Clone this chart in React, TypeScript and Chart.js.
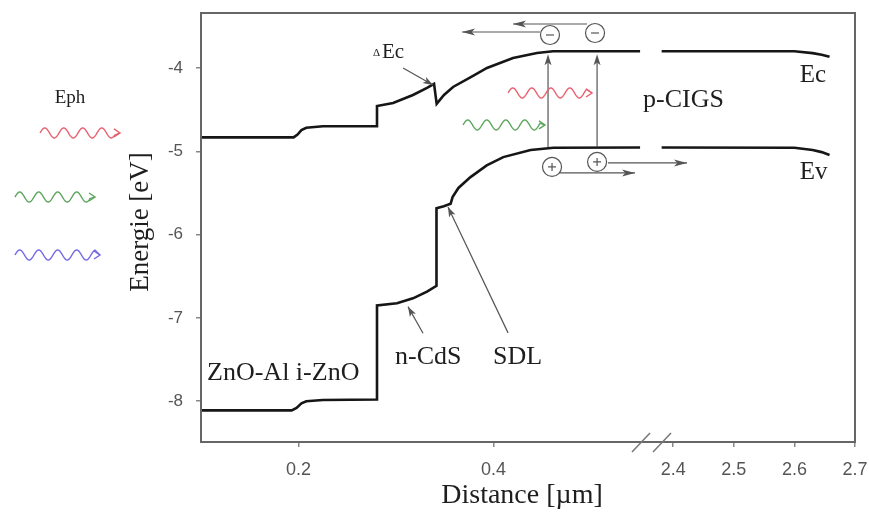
import React, { useEffect, useRef } from "react";
import { Chart, registerables } from "chart.js";

Chart.register(...registerables);

// ---- data (Distance in µm, Energy in eV) ----
const EC_LEFT_X = [0.1, 0.195, 0.199, 0.203, 0.208, 0.225, 0.2805, 0.2805, 0.297, 0.3174, 0.3318, 0.339, 0.3417, 0.3492, 0.3585, 0.379, 0.3933, 0.42, 0.4446, 0.461, 0.5503];
const EC_LEFT_Y = [-4.833, -4.833, -4.8, -4.745, -4.718, -4.7, -4.7, -4.456, -4.42, -4.324, -4.24, -4.19, -4.43, -4.324, -4.228, -4.096, -4.0, -3.88, -3.82, -3.8, -3.8];
const EV_LEFT_X = [0.1, 0.193, 0.198, 0.203, 0.208, 0.225, 0.2805, 0.2805, 0.301, 0.3174, 0.3318, 0.3415, 0.3415, 0.349, 0.356, 0.358, 0.364, 0.3764, 0.393, 0.41, 0.438, 0.4615, 0.5503];
const EV_LEFT_Y = [-8.11, -8.11, -8.08, -8.025, -8.0, -7.985, -7.98, -6.85, -6.825, -6.765, -6.685, -6.615, -5.685, -5.66, -5.63, -5.55, -5.44, -5.31, -5.17, -5.07, -4.985, -4.957, -4.955];
const EC_RIGHT_X = [2.381, 2.6, 2.63, 2.645, 2.658];
const EC_RIGHT_Y = [-3.8, -3.8, -3.822, -3.84, -3.866];
const EV_RIGHT_X = [2.381, 2.6, 2.63, 2.645, 2.658];
const EV_RIGHT_Y = [-4.955, -4.957, -4.985, -5.01, -5.045];

const X1_TICKS = [0.2, 0.4];
const X2_TICKS = [2.4, 2.5, 2.6, 2.7];
const Y_TICKS = [-8, -7, -6, -5, -4];

const X1_RANGE = [0.1, 0.5615];
const X2_RANGE = [2.3634, 2.7];
const Y_RANGE = [-8.49, -3.34];

// ---- annotations (positioned in data units) ----
const TEXT_LABELS = [
  { text: "ZnO-Al i-ZnO", x: 0.1062, y: -7.661, size: 26 },
  { text: "n-CdS", x: 0.299, y: -7.466, size: 26 },
  { text: "SDL", x: 0.3995, y: -7.466, size: 26 },
  { text: "p-CIGS", x: 0.5533, y: -4.384, size: 26 },
  { text: "Ec", x: 2.609, y: -4.084, size: 25 },
  { text: "Ev", x: 2.609, y: -5.248, size: 25 },
  { text: "Eph", x: -0.0344, y: -4.36, size: 19, center: true },
];
const POINTER_ARROWS = [
  { x0: 0.3072, y0: -4.0, x1: 0.3379, y1: -4.204 },
  { x0: 0.3277, y0: -7.185, x1: 0.3123, y1: -6.865 },
  { x0: 0.4149, y0: -7.18, x1: 0.3533, y1: -5.669 },
];
const TRANSITION_X = [0.4559, 0.5062];
const TRANSITION_Y = [-4.948, -3.835];
const ELECTRONS = [
  { x: 0.4579, y: -3.604 },
  { x: 0.5041, y: -3.58 },
];
const HOLES = [
  { x: 0.46, y: -5.188 },
  { x: 0.5062, y: -5.128 },
];
const DRIFT_ARROWS = [
  { x0: 0.4477, x1: 0.3677, y: -3.568 },
  { x0: 0.4959, x1: 0.42, y: -3.472 },
  { x0: 0.4651, x1: 0.5451, y: -5.26 },
  { x0: 0.5174, x1: 2.4228, y: -5.14 },
];
const PHOTONS = [
  { x0: -0.0651, x1: 0.0169, y: -4.78, color: "#e8616f" },
  { x0: -0.0908, x1: -0.0087, y: -5.549, color: "#5ea65e" },
  { x0: -0.0908, x1: -0.0036, y: -6.245, color: "#7468e6" },
  { x0: 0.4149, x1: 0.501, y: -4.3, color: "#e8616f" },
  { x0: 0.3687, x1: 0.4528, y: -4.684, color: "#5ea65e" },
];

const SERIF = '"Liberation Serif", "Times New Roman", serif';
const SANS = '"Liberation Sans", Arial, sans-serif';

const toPts = (xs: number[], ys: number[]) => xs.map((x, i) => ({ x, y: ys[i] }));

function head(ctx: CanvasRenderingContext2D, x0: number, y0: number, x1: number, y1: number, len: number, half: number, color: string) {
  const a = Math.atan2(y1 - y0, x1 - x0);
  const c = Math.cos(a), s = Math.sin(a);
  ctx.save();
  ctx.fillStyle = color;
  ctx.beginPath();
  ctx.moveTo(x1, y1);
  ctx.lineTo(x1 - len * c - half * s, y1 - len * s + half * c);
  ctx.lineTo(x1 - len * c * 0.75, y1 - len * s * 0.75);
  ctx.lineTo(x1 - len * c + half * s, y1 - len * s - half * c);
  ctx.closePath();
  ctx.fill();
  ctx.restore();
}

const decorPlugin = {
  id: "decor",
  afterDraw(chart: any) {
    const ctx: CanvasRenderingContext2D = chart.ctx;
    const { x1, x2, y } = chart.scales;
    const area = chart.chartArea;
    const X = (v: number) => (v > 1 ? x2 : x1).getPixelForValue(v);
    const Y = (v: number) => y.getPixelForValue(v);
    ctx.save();

    // frame
    ctx.strokeStyle = "#666";
    ctx.lineWidth = 2;
    ctx.strokeRect(area.left, area.top, area.right - area.left, area.bottom - area.top);

    // axis break marks
    const bx = x1.right;
    ctx.strokeStyle = "#777";
    ctx.lineWidth = 1.5;
    [-10, 11].forEach((d) => {
      ctx.beginPath();
      ctx.moveTo(bx + d - 9, area.bottom + 10);
      ctx.lineTo(bx + d + 9, area.bottom - 9);
      ctx.stroke();
    });

    // labels
    ctx.fillStyle = "#1e1e1e";
    ctx.textBaseline = "middle";
    TEXT_LABELS.forEach((l) => {
      ctx.font = `${l.size}px ${SERIF}`;
      ctx.textAlign = l.center ? "center" : "left";
      ctx.fillText(l.text, X(l.x), Y(l.y));
    });
    // ΔEc
    {
      const lx = X(0.2764), ly = Y(-3.808);
      ctx.textAlign = "left";
      ctx.font = `11px ${SERIF}`;
      ctx.fillText("Δ", lx, ly + 1);
      ctx.font = `21px ${SERIF}`;
      ctx.fillText("Ec", lx + 9, ly);
    }

    // axis titles
    ctx.fillStyle = "#1e1e1e";
    ctx.font = `28px ${SERIF}`;
    ctx.textAlign = "center";
    ctx.fillText("Distance [µm]", X(0.4292), area.bottom + 54);
    ctx.font = `27px ${SERIF}`;
    ctx.save();
    ctx.translate(area.left - 60, Y(-5.849));
    ctx.rotate(-Math.PI / 2);
    ctx.fillText("Energie [eV]", 0, 0);
    ctx.restore();

    // pointer arrows
    const grey = "#555";
    ctx.strokeStyle = grey;
    ctx.lineWidth = 1.2;
    POINTER_ARROWS.forEach((a) => {
      const px0 = X(a.x0), py0 = Y(a.y0), px1 = X(a.x1), py1 = Y(a.y1);
      ctx.beginPath();
      ctx.moveTo(px0, py0);
      ctx.lineTo(px1, py1);
      ctx.stroke();
      head(ctx, px0, py0, px1, py1, 10, 3.5, grey);
    });

    // transitions
    TRANSITION_X.forEach((tx) => {
      const px = X(tx), pb = Y(TRANSITION_Y[0]), pt = Y(TRANSITION_Y[1]);
      ctx.beginPath();
      ctx.moveTo(px, pb);
      ctx.lineTo(px, pt + 6);
      ctx.stroke();
      head(ctx, px, pb, px, pt, 11, 3.5, grey);
    });

    // drift arrows
    DRIFT_ARROWS.forEach((a) => {
      const px0 = X(a.x0), px1 = X(a.x1), py = Y(a.y);
      ctx.beginPath();
      ctx.moveTo(px0, py);
      ctx.lineTo(px1, py);
      ctx.stroke();
      head(ctx, px0, py, px1, py, 13, 3.5, grey);
    });

    // carriers
    const circle = (c: { x: number; y: number }, plus: boolean) => {
      const cx = X(c.x), cy = Y(c.y);
      ctx.fillStyle = "#fff";
      ctx.beginPath();
      ctx.arc(cx, cy, 9.5, 0, Math.PI * 2);
      ctx.fill();
      ctx.stroke();
      ctx.beginPath();
      ctx.moveTo(cx - 4, cy);
      ctx.lineTo(cx + 4, cy);
      if (plus) {
        ctx.moveTo(cx, cy - 4);
        ctx.lineTo(cx, cy + 4);
      }
      ctx.stroke();
    };
    ELECTRONS.forEach((c) => circle(c, false));
    HOLES.forEach((c) => circle(c, true));

    // photons
    PHOTONS.forEach((p) => {
      const px0 = X(p.x0), px1 = X(p.x1), py = Y(p.y);
      const lam = 19, amp = 5;
      ctx.strokeStyle = p.color;
      ctx.lineWidth = 1.4;
      ctx.beginPath();
      const end = px1 - 5;
      for (let xx = px0; xx <= end; xx += 0.5) {
        const yy = py - amp * Math.sin((2 * Math.PI * (xx - px0)) / lam);
        if (xx === px0) ctx.moveTo(xx, yy);
        else ctx.lineTo(xx, yy);
      }
      ctx.lineTo(px1, py);
      ctx.stroke();
      ctx.beginPath();
      ctx.moveTo(px1 - 6, py - 4);
      ctx.lineTo(px1, py);
      ctx.lineTo(px1 - 6, py + 4);
      ctx.stroke();
    });

    ctx.restore();
  },
};

export default function App() {
  const ref = useRef<HTMLCanvasElement | null>(null);
  useEffect(() => {
    if (!ref.current) return;
    const lineStyle = {
      borderColor: "#161616",
      borderWidth: 2.6,
      pointRadius: 0,
      tension: 0,
      fill: false,
    };
    const tickFont = { family: SANS, size: 17 };
    const xTickFont = { family: SANS, size: 18 };
    const chart = new Chart(ref.current, {
      type: "line",
      data: {
        datasets: [
          { label: "Ec", data: toPts(EC_LEFT_X, EC_LEFT_Y), xAxisID: "x1", yAxisID: "y", ...lineStyle },
          { label: "Ev", data: toPts(EV_LEFT_X, EV_LEFT_Y), xAxisID: "x1", yAxisID: "y", ...lineStyle },
          { label: "Ec (p-CIGS)", data: toPts(EC_RIGHT_X, EC_RIGHT_Y), xAxisID: "x2", yAxisID: "y", ...lineStyle },
          { label: "Ev (p-CIGS)", data: toPts(EV_RIGHT_X, EV_RIGHT_Y), xAxisID: "x2", yAxisID: "y", ...lineStyle },
        ],
      },
      options: {
        animation: false,
        responsive: true,
        maintainAspectRatio: false,
        layout: { padding: { left: 0, top: 13, right: 14, bottom: 0 } },
        plugins: { legend: { display: false }, tooltip: { enabled: false } },
        scales: {
          x1: {
            type: "linear",
            position: "bottom",
            stack: "dist",
            stackWeight: 450,
            min: X1_RANGE[0],
            max: X1_RANGE[1],
            afterBuildTicks: (s: any) => { s.ticks = X1_TICKS.map((v) => ({ value: v })); },
            afterFit: (s: any) => { s.height = 71; s.paddingLeft = 0; s.paddingRight = 0; },
            ticks: { font: xTickFont, color: "#555", padding: 12, callback: (v: any) => Number(v).toFixed(1), maxRotation: 0 },
            grid: { drawOnChartArea: false, drawTicks: true, tickLength: 5, color: "#888", lineWidth: 1.5 },
            border: { display: false },
          },
          x2: {
            type: "linear",
            position: "bottom",
            stack: "dist",
            stackWeight: 204,
            min: X2_RANGE[0],
            max: X2_RANGE[1],
            afterBuildTicks: (s: any) => { s.ticks = X2_TICKS.map((v) => ({ value: v })); },
            afterFit: (s: any) => { s.height = 71; s.paddingLeft = 0; s.paddingRight = 0; },
            ticks: { font: xTickFont, color: "#555", padding: 12, callback: (v: any) => Number(v).toFixed(1), maxRotation: 0 },
            grid: { drawOnChartArea: false, drawTicks: true, tickLength: 5, color: "#888", lineWidth: 1.5 },
            border: { display: false },
          },
          y: {
            type: "linear",
            position: "left",
            min: Y_RANGE[0],
            max: Y_RANGE[1],
            afterBuildTicks: (s: any) => { s.ticks = Y_TICKS.map((v) => ({ value: v })); },
            afterFit: (s: any) => { s.width = 201; s.paddingTop = 0; s.paddingBottom = 0; },
            ticks: { font: tickFont, color: "#555", padding: 13, callback: (v: any) => String(v) },
            grid: { drawOnChartArea: false, drawTicks: true, tickLength: 5, color: "#888", lineWidth: 1.5 },
            border: { display: false },
          },
        },
      },
      plugins: [decorPlugin],
    } as any);
    return () => chart.destroy();
  }, []);
  return (
    <div style={{ position: "fixed", left: 0, top: 0, width: 869, height: 513, background: "#fff" }}>
      <canvas ref={ref} />
    </div>
  );
}
